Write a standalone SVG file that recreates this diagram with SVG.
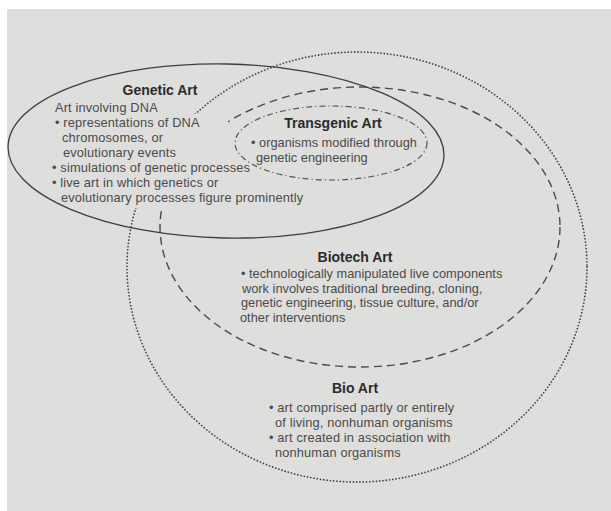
<svg xmlns="http://www.w3.org/2000/svg" width="611" height="511" viewBox="0 0 611 511">
  <style>
    .title { font-family: "Liberation Sans", Arial, sans-serif; font-weight: bold; font-size: 14px; fill: #2b2b2b; text-anchor: middle; }
    .body { font-family: "Liberation Sans", Arial, sans-serif; font-size: 12.8px; letter-spacing: 0.15px; fill: #4a4a4a; }
    .tight { letter-spacing: 0; }
    .solid { fill: none; stroke: #3e3e3e; stroke-width: 1.3; }
    .dashed { fill: none; stroke: #4a4a4a; stroke-width: 1.4; stroke-dasharray: 8 5; }
    .dotted { fill: none; stroke: #444; stroke-width: 1.8; stroke-dasharray: 0 3.3; stroke-linecap: round; }
    .dashdot { fill: none; stroke: #555; stroke-width: 1.2; stroke-dasharray: 6 3 1.2 3; }
    .paper { fill: #dededc; }
  </style>

  <!-- page -->
  <rect x="0" y="0" width="611" height="511" fill="#ffffff"/>
  <rect class="paper" x="7" y="9" width="604" height="502"/>

  <g id="connectors"></g>

  <!-- Bio Art: dotted outer circle -->
  <g id="bio-art">
    <ellipse class="dotted" cx="357" cy="267" rx="230" ry="215"/>
    <text class="title" x="355" y="393">Bio Art</text>
    <text class="body" x="269" y="412">• art comprised partly or entirely</text>
    <text class="body" x="275" y="427">of living, nonhuman organisms</text>
    <text class="body" x="269" y="442">• art created in association with</text>
    <text class="body" x="275" y="457">nonhuman organisms</text>
  </g>

  <!-- Biotech Art: dashed ellipse -->
  <g id="biotech-art">
    <ellipse class="dashed" cx="360" cy="227" rx="200" ry="140"/>
    <text class="title" x="355" y="262">Biotech Art</text>
    <text class="body tight" x="241" y="278">• technologically manipulated live components</text>
    <text class="body tight" x="242" y="292.5">work involves traditional breeding, cloning,</text>
    <text class="body tight" x="241" y="307">genetic engineering, tissue culture, and/or</text>
    <text class="body tight" x="240" y="321.5">other interventions</text>
  </g>

  <!-- Genetic Art: solid ellipse; the text block sits on a paper-coloured panel -->
  <g id="genetic-art">
    <rect class="paper" x="50" y="114" width="178" height="94"/>
    <ellipse class="solid" cx="226" cy="151" rx="218" ry="87" transform="rotate(1.2 226 151)"/>
    <text class="title" x="160" y="95">Genetic Art</text>
    <text class="body" x="55" y="112">Art involving DNA</text>
    <text class="body" x="55" y="127">• representations of DNA</text>
    <text class="body" x="62" y="142">chromosomes, or</text>
    <text class="body" x="63" y="157">evolutionary events</text>
    <text class="body" x="52" y="172">• simulations of genetic processes</text>
    <text class="body" x="52" y="187">• live art in which genetics or</text>
    <text class="body" x="61" y="202">evolutionary processes figure prominently</text>
  </g>

  <!-- Transgenic Art: dash-dot ellipse -->
  <g id="transgenic-art">
    <ellipse class="dashdot" cx="331" cy="143" rx="96" ry="37"/>
    <text class="title" x="333" y="128">Transgenic Art</text>
    <text class="body tight" x="251" y="147">• organisms modified through</text>
    <text class="body tight" x="256" y="162">genetic engineering</text>
  </g>
</svg>
